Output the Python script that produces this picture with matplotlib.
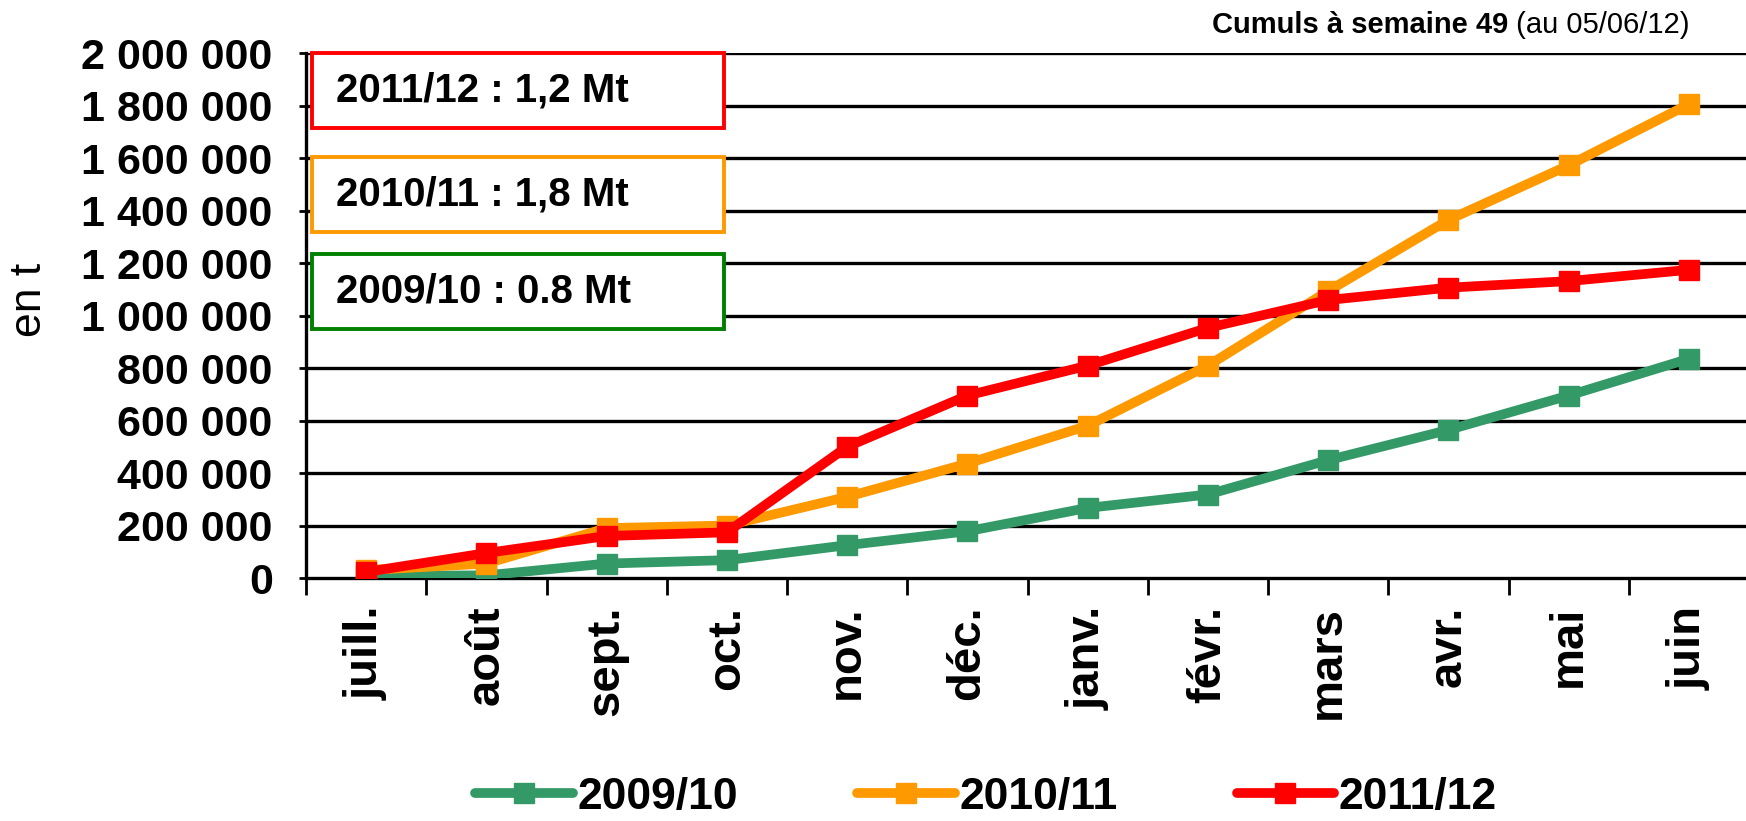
import numpy as np
import matplotlib
matplotlib.use("Agg")
import matplotlib.pyplot as plt
from matplotlib.ticker import FixedLocator, FuncFormatter

plt.rcParams['font.family'] = ['Liberation Sans', 'DejaVu Sans']

months = ["juill.", "août", "sept.", "oct.", "nov.", "déc.", "janv.", "févr.",
          "mars", "avr.", "mai", "juin"]
s0910 = [8000, 10000, 55000, 68000, 125000, 178000, 267000, 318000, 449000, 564000, 695000, 835000]
s1011 = [30000, 55000, 190000, 200000, 309000, 436000, 580000, 809000, 1093000, 1364000, 1572000, 1805000]
s1112 = [23000, 95000, 160000, 174000, 500000, 695000, 809000, 953000, 1059000, 1106000, 1131000, 1174000]
series_names = ["2009/10", "2010/11", "2011/12"]
series_colors = ["#339966", "#FF9900", "#FF0000"]
box_texts = ["2011/12 : 1,2 Mt", "2010/11 : 1,8 Mt", "2009/10 : 0.8 Mt"]
box_colors = ["#FF0000", "#FF9900", "#008000"]
yticks = [0, 200000, 400000, 600000, 800000, 1000000, 1200000, 1400000, 1600000, 1800000, 2000000]

W, H = 1746, 821
fig = plt.figure(figsize=(W / 100, H / 100), dpi=100)
ax = fig.add_axes([306 / W, 1 - 578 / H, 1443 / W, 525 / H])

x = np.arange(len(months))
for vals, name, col in zip([s0910, s1011, s1112], series_names, series_colors):
    ax.plot(x, vals, color=col, lw=7, marker='s', markersize=14,
            markeredgecolor=col, label=name, solid_joinstyle='round',
            solid_capstyle='round', zorder=3)

ax.set_xlim(-0.5, len(months) - 0.5)
ax.set_ylim(0, 2000000)
ax.yaxis.set_major_locator(FixedLocator(yticks))
ax.yaxis.set_major_formatter(FuncFormatter(lambda v, p: f"{int(v):,}".replace(",", " ")))
for t in yticks[1:]:
    ax.axhline(t, color='black', lw=2.4, zorder=1)

ax.set_xticks(x)
ax.set_xticklabels(months, rotation=90, fontsize=34, fontweight='bold', va='top')
ax.set_xticks(np.arange(-0.5, len(months) + 0.5, 1), minor=True)
ax.tick_params(axis='x', which='major', length=0, pad=20)
ax.tick_params(axis='x', which='minor', length=12, width=2, direction='out')
ax.tick_params(axis='y', which='major', length=5, width=2, direction='out', pad=19,
               labelsize=31)
for lab in ax.get_yticklabels():
    lab.set_fontweight('bold')

for s in ['top', 'right']:
    ax.spines[s].set_visible(False)
for s in ['left', 'bottom']:
    ax.spines[s].set_linewidth(2.4)
    ax.spines[s].set_color('black')

ax.set_ylabel("en t", fontsize=32)
ax.yaxis.set_label_coords((50 - 306) / 1443, 0.53)

# annotation boxes
box_tops = [53, 157, 254]
box_h = 75
for txt, col, top in zip(box_texts, box_colors, box_tops):
    rect = plt.Rectangle((312 / W, 1 - (top + box_h) / H), (724 - 312) / W, box_h / H,
                         transform=fig.transFigure, facecolor='white', edgecolor=col,
                         lw=2.8, zorder=5)
    fig.patches.append(rect)
    fig.text(336 / W, 1 - (top + box_h / 2) / H, txt, fontsize=29, fontweight='bold',
             va='center', ha='left', zorder=6)

fig.canvas.draw()
r = fig.canvas.get_renderer()
tn = fig.text(1690 / W, 1 - 25 / H, " (au 05/06/12)", fontsize=21, ha='right', va='center')
bb = tn.get_window_extent(renderer=r)
fig.text(bb.x0 / W, 1 - 25 / H, "Cumuls à semaine 49", fontsize=21, fontweight='bold',
         ha='right', va='center')

leg = fig.legend(loc='center', bbox_to_anchor=(986 / W, 1 - 797 / H), ncol=3, frameon=False,
                 prop={'size': 32, 'weight': 'bold'}, handlelength=2.2, handletextpad=0.1,
                 columnspacing=2.68, borderpad=0.0)

fig.savefig("out.png", dpi=100)
